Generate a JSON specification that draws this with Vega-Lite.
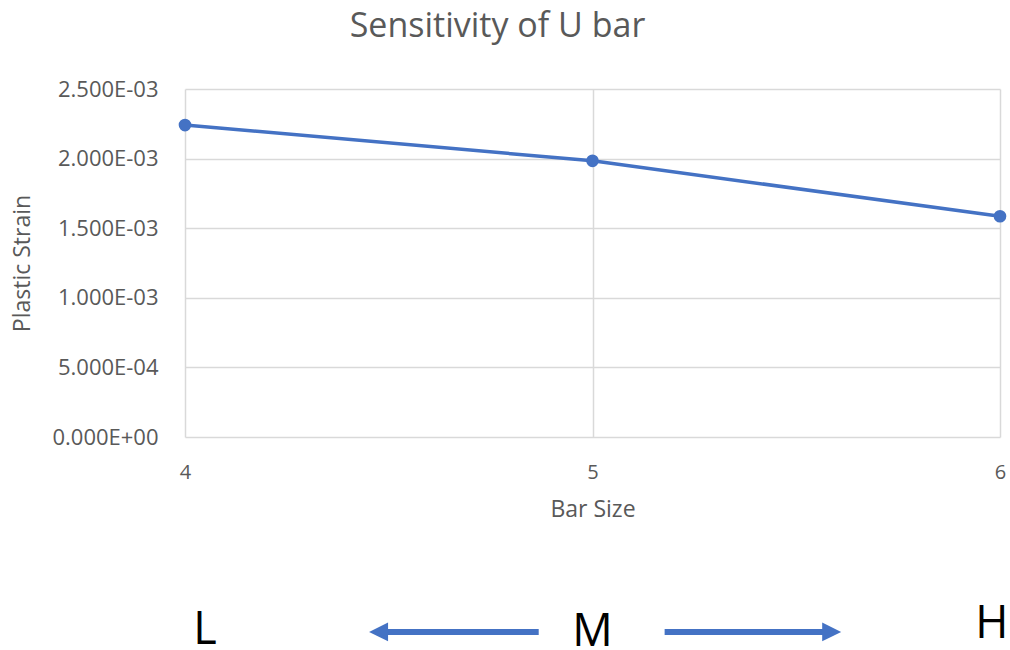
{
  "$schema": "https://vega.github.io/schema/vega-lite/v6.json",
  "width": 815,
  "height": 348,
  "autosize": "none",
  "padding": {"left": 185, "top": 89, "right": 10, "bottom": 213},
  "background": "white",
  "config": {
    "view": {"stroke": null},
    "font": "Open Sans"
  },
  "title": {
    "text": "Sensitivity of U bar",
    "font": "Open Sans",
    "fontSize": 34,
    "fontWeight": "normal",
    "color": "#595959",
    "anchor": "middle",
    "frame": "group",
    "baseline": "alphabetic",
    "dx": -95,
    "offset": 7
  },
  "datasets": {
    "strain": [
      {"x": 4, "y": 0.002241},
      {"x": 5, "y": 0.001984},
      {"x": 6, "y": 0.001586}
    ],
    "letters": [
      {"x": 4.049, "y": -0.001486, "label": "L"},
      {"x": 5.0, "y": -0.0015, "label": "M"},
      {"x": 5.98, "y": -0.001442, "label": "H"}
    ],
    "arrows": [
      {"x": 4.475, "x2": 4.868, "y": -0.0014},
      {"x": 5.177, "x2": 5.587, "y": -0.0014}
    ],
    "heads": [
      {"x": 4.475, "y": -0.0014, "dir": "left"},
      {"x": 5.587, "y": -0.0014, "dir": "right"}
    ]
  },
  "encoding": {
    "x": {
      "field": "x",
      "type": "quantitative",
      "scale": {"domain": [4, 6], "nice": false, "zero": false},
      "axis": {
        "title": "Bar Size",
        "tickCount": 3,
        "format": "d",
        "grid": true,
        "gridColor": "#d9d9d9",
        "gridWidth": 1.5,
        "domain": false,
        "ticks": false,
        "labelFlush": false,
        "labelOverlap": false,
        "labelFont": "Open Sans",
        "labelFontSize": 20,
        "labelColor": "#595959",
        "labelPadding": 25,
        "titleFont": "Open Sans",
        "titleFontSize": 23,
        "titleFontWeight": "normal",
        "titleColor": "#595959",
        "titlePadding": 16
      }
    },
    "y": {
      "field": "y",
      "type": "quantitative",
      "scale": {"domain": [0, 0.0025], "nice": false, "zero": false},
      "axis": {
        "title": "Plastic Strain",
        "values": [0, 0.0005, 0.001, 0.0015, 0.002, 0.0025],
        "labelExpr": "replace(replace(upper(format(datum.value, '.3e')), 'E-', 'E-0'), 'E+', 'E+0')",
        "grid": true,
        "gridColor": "#d9d9d9",
        "gridWidth": 1.5,
        "domain": false,
        "ticks": false,
        "labelOverlap": false,
        "labelFont": "Open Sans",
        "labelFontSize": 22,
        "labelColor": "#595959",
        "labelPadding": 27,
        "titleFont": "Open Sans",
        "titleFontSize": 23,
        "titleFontWeight": "normal",
        "titleColor": "#595959",
        "titlePadding": 17
      }
    }
  },
  "layer": [
    {
      "data": {"name": "strain"},
      "mark": {"type": "line", "color": "#4472C4", "strokeWidth": 3.5, "point": {"filled": true, "size": 160, "color": "#4472C4", "opacity": 1}}
    },
    {
      "data": {"name": "arrows"},
      "mark": {"type": "rule", "color": "#4472C4", "strokeWidth": 6},
      "encoding": {"x2": {"field": "x2"}}
    },
    {
      "data": {"name": "heads"},
      "mark": {"type": "point", "filled": true, "opacity": 1, "color": "#4472C4", "size": 360},
      "encoding": {
        "shape": {
          "field": "dir",
          "type": "nominal",
          "scale": {"domain": ["left", "right"], "range": ["M1,-1L-1,0L1,1Z", "M-1,-1L1,0L-1,1Z"]},
          "legend": null
        }
      }
    },
    {
      "data": {"name": "letters"},
      "mark": {"type": "text", "font": "Open Sans", "fontSize": 45, "color": "black", "baseline": "alphabetic", "align": "center"},
      "encoding": {"text": {"field": "label"}}
    }
  ]
}
